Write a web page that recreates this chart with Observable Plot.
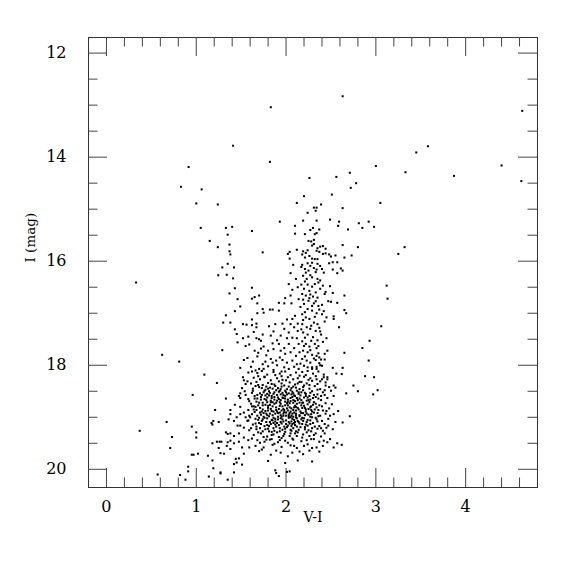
<!DOCTYPE html>
<html><head><meta charset="utf-8">
<script src="https://cdn.jsdelivr.net/npm/d3@7"></script>
<script src="https://cdn.jsdelivr.net/npm/@observablehq/plot@0.6"></script>
<style>body{margin:0;background:#fff}</style>
</head><body><div id="chart"></div>
<script>
// [V-I, I] pairs
const brightStars = [[1.83,13.04],[1.41,13.78],[1.82,14.09],[0.915,14.19],[0.83,14.57],[1.06,14.62],[1.0,14.89],[1.24,14.91],[2.12,14.88],[1.93,15.24],[2.10,15.32],[2.10,15.47],[1.05,15.36],[1.33,15.36],[1.40,15.34],[1.62,15.42],[1.35,15.49],[1.15,15.61],[1.24,15.73],[1.37,15.68],[1.37,15.81],[1.38,15.87],[1.74,15.83],[2.02,15.86],[2.04,15.82],[2.04,15.95],[2.12,15.78],
[2.63,12.83],[4.63,13.11],[3.58,13.79],[3.45,13.91],[3.0,14.17],[4.40,14.16],[3.33,14.29],[2.71,14.30],[2.56,14.38],[2.26,14.40],[3.87,14.36],[4.62,14.46],[2.78,14.50],[2.72,14.59],[2.20,14.75],[2.51,14.72],[3.05,14.88],[2.39,14.91],[2.31,14.97],[2.34,14.97],[2.33,15.03],[2.63,14.98],[2.24,15.07],[2.19,15.22],[2.34,15.22],[2.49,15.20],[2.59,15.24],[2.58,15.32],[2.81,15.27],[2.85,15.36],[2.92,15.24],[2.98,15.34],[2.69,15.39],[2.30,15.36],[2.37,15.39],[2.27,15.40],[2.34,15.46],[2.32,15.48],[2.21,15.48],[2.25,15.61],[2.28,15.62],[2.31,15.59],[2.31,15.67],[2.29,15.70],[2.63,15.69],[2.80,15.73],[3.32,15.73],[3.25,15.86],[2.73,15.89],[2.65,15.93],[2.55,15.89]];
const redClump = [[2.38,15.72],[2.41,15.71],[2.44,15.76],[2.35,15.75],[2.34,15.80],[2.37,15.82],[2.41,15.86],[2.44,15.85],[2.48,15.87],[2.50,15.91],[2.24,15.79],[2.22,15.84],[2.19,15.81],[2.18,15.87],[2.21,15.93],[2.26,15.90],[2.29,15.95],[2.32,15.96],[2.35,15.96]];
const blueStars = [[1.245,16.27],[0.33,16.41],[0.62,17.80],[0.81,17.93],[1.09,18.18],[1.23,18.34],[0.96,18.57],[1.21,18.86],[0.67,19.09],[1.19,19.07],[1.17,19.11],[1.18,19.14],[1.25,19.09],[0.95,19.18],[1.0,19.29],[1.0,19.39],[0.37,19.26],[0.73,19.38],[0.71,19.59],[1.23,19.47],[1.18,19.50],[1.26,19.47],[1.25,19.59],[1.27,19.69],[0.95,19.72],[0.97,19.72],[1.02,19.70],[1.13,19.74],[1.18,19.83],[0.91,19.95],[0.91,20.04],[1.19,19.98],[0.57,20.10],[0.82,20.11],[0.88,20.20],[1.14,20.14],[1.27,20.08],[1.35,20.20],[1.42,20.06],[1.89,20.07],[1.92,20.13],[2.04,20.04]];
const subgiants = [[1.35,16.05],[1.42,16.12],[1.29,16.12],[1.34,16.26],[1.41,16.33],[1.43,16.52],[1.37,16.62],[1.62,16.51],[1.46,16.73],[1.62,16.72],[1.65,16.69],[1.70,16.66],[1.68,16.81],[1.49,16.87],[1.43,16.96],[1.68,17.0],[1.74,16.92],[1.82,16.93],[1.85,16.93],[1.75,16.99],[1.33,17.04],[1.62,17.12],[1.30,17.18],[1.38,17.18],[1.52,17.21],[1.56,17.22],[1.67,17.20],[1.67,17.27],[1.62,17.23],[1.81,17.25],[1.43,17.31],[1.64,17.36],[1.45,17.40],[1.52,17.48],[1.58,17.45],[1.67,17.48],[1.74,17.41],[1.70,17.50],[1.72,17.53],[1.55,17.63],[1.46,17.56],[1.59,17.60],[1.29,17.71],[1.65,17.72],[1.75,17.64],[1.85,17.58],[1.80,17.72],[1.72,17.68],[1.69,17.76],[1.53,17.90],[1.57,17.86],[1.49,18.05],[1.61,18.03],[1.74,17.98],[1.70,18.07],[1.75,18.07],[1.83,17.88],[1.85,17.95],[1.89,17.91],[1.90,18.0],
[1.92,16.95],[1.92,16.80],[1.98,16.81],[1.99,16.71],[2.05,16.66],[2.06,16.81],[2.07,16.55],[2.05,16.23],[2.03,16.44],[2.08,16.07],[2.11,16.34],[2.13,16.50],[2.14,16.73],
[1.96,17.20],[2.01,17.12],[2.05,17.21],[2.07,17.11],[2.10,17.05],[2.13,17.20],[1.98,17.30],[2.03,17.37],[2.09,17.27],[2.13,17.34],[1.94,17.43],[2.01,17.48],[2.07,17.47],[2.12,17.48],[1.92,17.59],[1.98,17.67],[2.03,17.59],[2.09,17.67],[2.14,17.59],[1.94,17.72],[1.99,17.78],[2.05,17.75],[2.11,17.82],[2.15,17.75],[1.96,17.90],[2.01,17.95],[2.07,17.91],[2.12,17.98],[1.98,18.04],[2.03,18.07],[2.09,18.03],[2.14,18.07],[1.86,17.69],[1.90,17.52],[1.83,17.43],[1.86,17.35],[1.88,17.21],
[1.63,17.93],[1.68,17.83],[1.78,17.81],[1.80,18.02],[1.66,18.10],[1.58,18.14],[1.86,18.09],[1.95,18.12],[1.93,17.85],[1.77,17.93]];
const giantBranch = [[3.12,16.47],[3.13,16.72],[2.65,16.66],[3.06,17.25],[2.93,17.53],[2.85,17.67],[2.65,17.76],[2.92,17.91],[2.63,18.05],[2.52,18.05],[2.59,17.27],[2.65,16.94],[2.67,17.0],[2.53,17.06],[2.53,17.11],[2.57,16.80],[2.52,16.61],[2.50,16.78],[2.45,17.48],[2.43,17.89],[2.36,17.77],[2.37,17.85],[2.39,17.89],[2.52,16.16],[2.57,16.23],[2.61,16.14],[2.63,16.18],[2.57,16.02],[2.52,16.02],[2.48,16.04],[2.49,16.48],[2.43,16.63],[2.47,16.77],[2.40,16.84],[2.40,17.02],[2.43,17.16],[2.38,17.35],[2.39,17.41],[2.36,17.63],[2.46,17.72],[2.38,18.0],[2.40,18.01],[2.29,18.04],[2.34,18.07],
[2.18,16.07],[2.24,16.04],[2.27,16.09],[2.21,16.15],[2.25,16.18],[2.31,16.13],[2.35,16.05],[2.38,16.09],[2.40,16.15],[2.33,16.21],[2.19,16.28],[2.23,16.34],[2.29,16.31],[2.35,16.34],[2.38,16.37],[2.32,16.44],[2.24,16.45],[2.20,16.53],[2.26,16.57],[2.33,16.60],[2.38,16.53],[2.18,16.63],[2.22,16.66],[2.27,16.64],[2.30,16.68],[2.35,16.70],[2.25,16.76],[2.20,16.82],[2.31,16.81],[2.36,16.86],[2.24,16.92],[2.29,16.95],[2.18,17.02],[2.34,17.0],[2.22,17.08],[2.26,17.11],[2.31,17.18],[2.35,17.21],[2.18,17.21],[2.23,17.27],[2.27,17.30],[2.33,17.34],[2.19,17.37],[2.24,17.41],[2.30,17.46],[2.35,17.52],[2.18,17.54],[2.22,17.59],[2.26,17.64],[2.32,17.59],[2.19,17.72],[2.24,17.75],[2.29,17.80],[2.34,17.82],[2.18,17.88],[2.23,17.91],[2.27,17.95],[2.33,17.90],[2.20,18.01],[2.24,18.04],[2.29,18.07],[2.34,18.03],
[2.17,16.11],[2.22,16.22],[2.29,16.03],[2.34,16.16],[2.42,16.22],[2.27,16.27],[2.36,16.41],[2.21,16.39],[2.29,16.49],[2.17,16.45],[2.41,16.47],[2.26,16.71],[2.33,16.77],[2.19,16.74],[2.29,16.86],[2.37,16.93],[2.21,16.98],[2.32,17.07],[2.19,17.13],[2.28,17.24],[2.37,17.28],[2.21,17.47],[2.28,17.53],[2.34,17.67],[2.20,17.63],[2.27,17.71],[2.31,17.87],[2.21,17.83],[2.37,17.96],[2.16,17.97],[2.16,16.88],[2.17,17.31],[2.44,16.59],[2.42,16.96],[2.45,17.08],[2.41,17.55],[2.43,17.78]];
const turnoffLeft = [[1.52,18.23],[1.53,18.29],[1.55,18.36],[1.51,18.44],[1.54,18.50],[1.49,18.54],[1.475,18.59],[1.55,18.57],[1.58,18.65],[1.49,18.63],[1.33,18.64],[1.43,18.76],[1.49,18.80],[1.38,18.86],[1.38,18.94],[1.36,19.04],[1.45,19.0],[1.49,18.94],[1.53,18.91],[1.55,19.0],[1.58,18.86],[1.59,18.97],[1.57,19.07],[1.42,19.07],[1.46,19.16],[1.49,19.16],[1.53,19.20],[1.59,19.25],[1.33,19.29],[1.35,19.32],[1.38,19.31],[1.42,19.36],[1.475,19.31],[1.53,19.39],[1.38,19.45],[1.42,19.50],[1.475,19.47],[1.58,19.44],[1.59,19.58],[1.28,19.47],[1.35,19.48],[1.34,19.55],[1.38,19.61],[1.51,19.58],[1.53,19.70],[1.31,19.70],[1.44,19.80],[1.45,19.87],[1.475,19.79],[1.42,19.90],[1.51,19.91],[1.27,20.06]];
const turnoffCore = [[1.62,18.12],[1.68,18.15],[1.73,18.11],[1.79,18.18],[1.86,18.13],[1.93,18.16],[1.99,18.12],[2.05,18.19],[2.11,18.14],[2.15,18.20],[1.64,18.24],[1.71,18.27],[1.76,18.22],[1.83,18.29],[1.90,18.25],[1.96,18.28],[2.02,18.23],[2.08,18.27],[2.13,18.25],[1.61,18.35],[1.67,18.32],[1.74,18.38],[1.80,18.34],[1.87,18.37],[1.92,18.31],[1.98,18.39],[2.04,18.33],[2.10,18.37],[2.15,18.32],[1.63,18.45],[1.70,18.42],[1.77,18.47],[1.82,18.43],[1.89,18.48],[1.95,18.41],[2.01,18.46],[2.06,18.44],[2.12,18.49],[1.85,18.45],[1.99,18.49],[1.62,18.53],[1.68,18.57],[1.75,18.52],[1.81,18.58],[1.86,18.55],[1.92,18.51],[1.97,18.57],[2.03,18.54],[2.09,18.58],[2.14,18.52],[1.79,18.55],[2.00,18.52],[1.65,18.64],[1.72,18.61],[1.78,18.67],[1.84,18.63],[1.90,18.68],[1.96,18.62],[2.02,18.66],[2.07,18.61],[2.13,18.67],[1.87,18.61],[2.05,18.69],[1.61,18.74],[1.69,18.77],[1.74,18.72],[1.80,18.78],[1.87,18.74],[1.93,18.71],[1.99,18.77],[2.04,18.73],[2.10,18.78],[2.15,18.72],[1.83,18.71],[1.96,18.79],[1.64,18.85],[1.71,18.82],[1.77,18.88],[1.83,18.84],[1.89,18.81],[1.95,18.87],[2.01,18.83],[2.08,18.86],[2.13,18.82],[1.86,18.89],[2.05,18.89],[1.62,18.94],[1.68,18.97],[1.75,18.92],[1.81,18.98],[1.88,18.93],[1.94,18.96],[2.00,18.91],[2.06,18.97],[2.11,18.93],[1.91,18.99],[2.03,18.95],[1.66,19.03],[1.73,19.07],[1.79,19.02],[1.85,19.06],[1.91,19.04],[1.97,19.08],[2.03,19.01],[2.09,19.05],[2.14,19.09],[1.82,19.09],[2.00,19.06],[1.63,19.14],[1.70,19.11],[1.76,19.17],[1.83,19.13],[1.89,19.18],[1.95,19.12],[2.02,19.16],[2.07,19.13],[2.12,19.18],[1.67,19.23],[1.74,19.27],[1.80,19.22],[1.87,19.26],[1.93,19.21],[1.99,19.28],[2.05,19.24],[2.11,19.27],[1.64,19.34],[1.72,19.31],[1.79,19.37],[1.86,19.33],[1.92,19.38],[1.98,19.32],[2.04,19.36],[2.10,19.31],[1.68,19.44],[1.76,19.47],[1.84,19.42],[1.91,19.48],[1.99,19.45],[2.08,19.43],[1.66,19.55],[1.75,19.58],[1.85,19.53],[1.95,19.57],[2.05,19.54],[2.12,19.59],[1.70,19.65],[1.83,19.72],[1.94,19.68],[2.02,19.75],[2.15,19.66],[1.80,19.84],[1.99,19.88],[2.13,19.83],[1.88,20.02],[2.01,20.05],
[1.66,18.40],[1.73,18.44],[1.88,18.40],[1.94,18.46],[2.08,18.41],[2.15,18.46],[1.65,18.59],[1.71,18.54],[1.84,18.59],[1.94,18.56],[2.06,18.56],[2.12,18.63],[1.67,18.70],[1.76,18.65],[1.92,18.65],[1.99,18.70],[2.08,18.72],[1.66,18.80],[1.74,18.85],[1.80,18.82],[1.92,18.84],[1.98,18.86],[2.11,18.87],[1.65,18.90],[1.72,18.95],[1.78,18.93],[1.85,18.96],[1.97,18.93],[2.08,18.99],[2.15,18.96],[1.69,19.05],[1.76,19.01],[1.88,19.08],[1.94,19.02],[2.06,19.08],[2.12,19.02],[1.67,19.18],[1.79,19.15],[1.86,19.11],[1.92,19.15],[1.98,19.18],[2.04,19.12],[2.10,19.15],[1.71,19.21],[1.84,19.28],[1.96,19.24],[2.08,19.21],[2.14,19.24]];
const turnoffDense = [[1.57,18.31],[1.63,18.49],[1.69,18.38],[1.72,18.66],[1.78,18.41],[1.81,18.50],[1.84,18.36],[1.87,18.52],[1.91,18.44],[1.95,18.35],[1.97,18.63],[2.03,18.41],[2.07,18.51],[2.11,18.43],[2.16,18.58],[2.19,18.48],[2.24,18.62],[2.27,18.53],[2.31,18.57],[2.35,18.47],[2.39,18.59],[2.43,18.57],
[1.59,18.69],[1.64,18.79],[1.70,18.72],[1.73,18.89],[1.77,18.76],[1.82,18.93],[1.85,18.79],[1.89,18.86],[1.93,18.78],[1.97,18.97],[2.01,18.73],[2.04,18.81],[2.07,18.93],[2.10,18.69],[2.14,18.85],[2.17,18.77],[2.21,18.96],[2.25,18.84],[2.29,18.89],[2.33,18.74],[2.36,18.98],[2.40,18.79],[2.45,18.88],[2.49,18.97],
[1.58,19.06],[1.61,19.21],[1.66,19.12],[1.69,19.29],[1.74,19.04],[1.77,19.23],[1.81,19.17],[1.84,19.34],[1.88,19.14],[1.90,19.29],[1.94,19.09],[1.97,19.36],[2.01,19.19],[2.05,19.31],[2.09,19.11],[2.12,19.36],[2.16,19.19],[2.19,19.07],[2.23,19.29],[2.27,19.13],[2.31,19.34],[2.35,19.08],[2.39,19.21],[2.43,19.31],[2.47,19.16],[2.52,19.23],[2.55,19.09],
[1.62,19.41],[1.71,19.49],[1.78,19.43],[1.87,19.51],[1.93,19.44],[2.02,19.49],[2.09,19.55],[2.17,19.46],[2.24,19.52],[2.29,19.59],[2.41,19.55],[2.49,19.42],[2.53,19.58],[1.73,19.62],[1.89,19.64],[2.07,19.68],[2.19,19.71],[2.37,19.66],
[1.76,18.23],[1.88,18.19],[2.00,18.29],[2.13,18.35],[2.25,18.28],[2.34,18.27],[1.69,18.21],[1.95,18.21],[2.20,18.39],
[1.79,18.62],[1.83,18.68],[1.90,18.57],[1.93,18.91],[1.99,18.59],[2.02,18.87],[2.05,18.63],[2.09,18.91],[2.15,18.64],[2.18,18.82],[2.22,18.59],[2.26,18.71],[2.30,18.63],[2.32,18.85],[1.75,18.99],[1.80,18.87],[1.86,19.01],[1.89,18.72],[1.95,18.99],[2.00,19.13],[2.03,18.98],[2.06,19.17],[2.11,19.00],[2.15,19.12],[2.19,18.92],[2.22,19.14],[2.27,18.99],[2.29,19.21],[2.34,19.04],[2.36,18.86],[1.71,18.91],[1.68,18.64],[1.73,18.57],[1.80,18.45],[1.85,18.71],[1.91,18.92]];
const turnoffPeak = [[1.76,18.49],[1.79,18.71],[1.82,18.53],[1.84,18.88],[1.87,18.66],[1.88,19.03],[1.91,18.62],[1.93,18.49],[1.94,18.74],[1.96,18.53],[1.97,18.84],[1.99,18.64],[2.00,18.97],[2.01,18.56],[2.02,18.77],[2.04,18.92],[2.05,18.48],[2.06,18.83],[2.07,19.03],[2.08,18.67],[2.09,18.81],[2.10,18.59],[2.11,18.96],[2.12,18.74],[2.13,19.07],[2.14,18.55],[2.16,18.89],[2.17,18.67],[2.18,19.01],[2.20,18.78],[2.21,18.53],[2.23,18.93],[2.24,19.05],[2.26,18.59],[2.28,18.94],[2.30,18.76],[1.78,19.09],[1.81,19.27],[1.84,19.05],[1.86,19.21],[1.90,19.11],[1.93,19.27],[1.96,19.04],[1.99,19.22],[2.03,19.09],[2.06,19.26],[2.10,19.09],[2.13,19.29],[2.17,19.04],[2.21,19.19],[1.74,18.77],[1.77,18.58],[1.79,18.96],[1.82,18.76],[1.90,18.89],[1.94,18.67],[1.98,18.90],[2.02,18.70],[2.05,19.00],[2.08,18.54],[2.11,18.80],[2.15,18.98],[2.19,18.72],[2.22,18.85],[2.25,18.67],[2.27,18.81],[1.72,19.13],[1.75,19.38],[1.82,19.43],[1.95,19.40],[2.07,19.41],[2.18,19.39],[2.28,19.42],[1.67,18.86],[1.70,19.01],[1.62,18.79],[1.60,19.00]];
const turnoffRight = [[2.18,18.13],[2.24,18.11],[2.30,18.16],[2.36,18.12],[2.42,18.18],[2.20,18.22],[2.27,18.25],[2.33,18.21],[2.40,18.27],[2.46,18.23],[2.17,18.32],[2.23,18.35],[2.29,18.30],[2.35,18.36],[2.44,18.33],[2.19,18.42],[2.26,18.45],[2.32,18.40],[2.38,18.46],[2.48,18.42],[2.17,18.52],[2.22,18.55],[2.29,18.50],[2.35,18.56],[2.41,18.52],[2.20,18.62],[2.27,18.66],[2.33,18.61],[2.39,18.67],[2.46,18.63],[2.18,18.72],[2.24,18.75],[2.31,18.71],[2.37,18.77],[2.44,18.73],[2.21,18.82],[2.28,18.86],[2.34,18.81],[2.41,18.87],[2.48,18.83],[2.17,18.92],[2.25,18.95],[2.31,18.91],[2.38,18.97],[2.44,18.93],[2.20,19.02],[2.27,19.06],[2.33,19.01],[2.40,19.07],[2.47,19.03],[2.18,19.13],[2.24,19.16],[2.30,19.11],[2.37,19.17],[2.43,19.13],[2.21,19.23],[2.28,19.27],[2.35,19.22],[2.41,19.26],[2.19,19.33],[2.26,19.36],[2.33,19.31],[2.39,19.37],[2.23,19.44],[2.31,19.42],[2.37,19.47],[2.20,19.55],[2.34,19.58],[2.26,19.64],
[2.22,18.19],[2.38,18.31],[2.26,18.38],[2.43,18.48],[2.23,18.68],[2.36,18.64],[2.28,18.79],[2.22,18.89],[2.35,18.92],[2.29,19.0],[2.23,19.09],[2.45,19.20],[2.32,19.18],[2.25,19.25],
[2.56,18.16],[2.62,18.17],[2.67,18.54],[2.71,18.98],[2.57,19.50],[2.62,19.53],[2.29,19.85],[2.42,19.45],[2.46,19.48],[2.63,19.10],[2.53,18.94],[2.58,18.88],[2.51,18.75],[2.53,18.59],[2.50,18.49],[2.44,18.39],[2.46,18.27],[2.42,18.23],[2.53,18.39],[2.55,18.43],
[2.88,18.21],[2.98,18.23],[2.75,18.39],[2.80,18.50],[3.02,18.48],[2.97,18.56]];

const xMajor = [0, 1, 2, 3, 4];
const xMinor = [0.2,0.4,0.6,0.8,1.2,1.4,1.6,1.8,2.2,2.4,2.6,2.8,3.2,3.4,3.6,3.8,4.2,4.4,4.6];
const yMajor = [12, 14, 16, 18, 20];
const yMinor = [12.5,13,13.5,14.5,15,15.5,16.5,17,17.5,18.5,19,19.5];
const xTitle = "V-I";
const yTitle = "I (mag)";

const stars = [].concat(brightStars, redClump, blueStars, subgiants, giantBranch, turnoffLeft, turnoffCore, turnoffDense, turnoffPeak, turnoffRight)
  .map(([vi, imag]) => ({vi, imag}));

const frameW = 449, frameH = 450, majorLen = 19, minorLen = 9.5;
const tickColor = "#444";

const chart = Plot.plot({
  width: 575, height: 575,
  marginLeft: 88, marginRight: 38, marginTop: 37, marginBottom: 88,
  style: {fontFamily: "'DejaVu Serif', serif", fontSize: "16px", background: "#fff", color: "#000"},
  x: {domain: [-0.2, 4.8]},
  y: {domain: [11.7, 20.35], reverse: true},
  marks: [
    Plot.frame({stroke: "#333", strokeWidth: 1}),
    Plot.tickX(xMajor, {x: d => d, insetTop: frameH - majorLen, stroke: tickColor}),
    Plot.tickX(xMajor, {x: d => d, insetBottom: frameH - majorLen, stroke: tickColor}),
    Plot.tickX(xMinor, {x: d => d, insetTop: frameH - minorLen, stroke: tickColor}),
    Plot.tickX(xMinor, {x: d => d, insetBottom: frameH - minorLen, stroke: tickColor}),
    Plot.tickY(yMajor, {y: d => d, insetRight: frameW - majorLen, stroke: tickColor}),
    Plot.tickY(yMajor, {y: d => d, insetLeft: frameW - majorLen, stroke: tickColor}),
    Plot.tickY(yMinor, {y: d => d, insetRight: frameW - minorLen, stroke: tickColor}),
    Plot.tickY(yMinor, {y: d => d, insetLeft: frameW - minorLen, stroke: tickColor}),
    Plot.axisX({ticks: xMajor, tickSize: 0, tickPadding: 13, tickFormat: d => `${d}`, label: null}),
    Plot.axisY({ticks: yMajor, tickSize: 0, tickPadding: 22, tickFormat: d => `${d}`, label: null}),
    Plot.text([xTitle], {frameAnchor: "bottom", dy: 30, fontSize: 14, lineAnchor: "middle"}),
    Plot.text([yTitle], {frameAnchor: "left", dx: -58, rotate: -90, fontSize: 13.5, lineAnchor: "middle"}),
    Plot.dot(stars, {x: "vi", y: "imag", symbol: "square", r: 1.15, fill: "#000", stroke: "none"})
  ]
});
document.getElementById("chart").append(chart);
</script>
</body></html>
